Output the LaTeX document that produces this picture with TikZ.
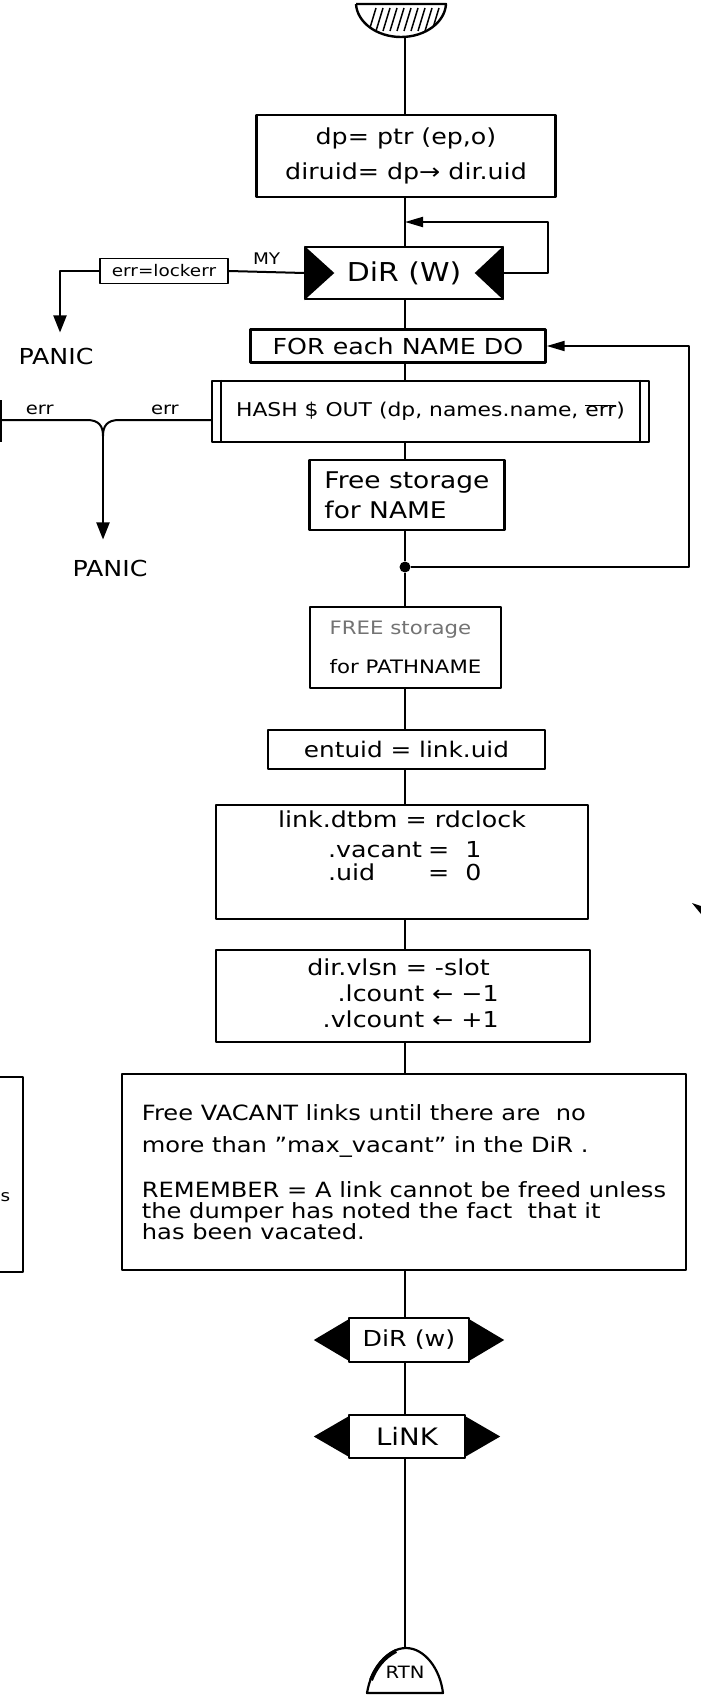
\documentclass[tikz,border=0pt]{standalone}
\usepackage{fontspec}
\setmainfont{DejaVu Sans}[FakeStretch=1.15]
\usetikzlibrary{arrows.meta,calc}
\newcommand\hsz[2]{\fontsize{#1}{#2}\selectfont}

\begin{document}
\begin{tikzpicture}[x=1pt,y=-1pt,line join=round,
  box/.style={draw,line width=2.4pt,inner sep=0pt},
  txt/.style={inner sep=0pt},
  flow/.style={line width=2pt},
  arr/.style={flow,-{Triangle[length=17pt,width=13pt]}},
  larr/.style={flow,-{Triangle[length=18pt,width=10pt]}},
]
\useasboundingbox (0,0) rectangle (701,1705);

% main vertical axis
\coordinate (ax) at (405,0);

% ---------- entry terminal (hatched half disc) ----------
\node[txt,minimum width=88pt,minimum height=33pt] (start) at (401,20.5) {};
\begin{scope}
  \clip (357,4) .. controls (357,22.2) and (376.7,37) .. (401,37)
        .. controls (425.3,37) and (445,22.2) .. (445,4) -- cycle;
  \foreach \i in {0,...,9}
    \draw[line width=1.5pt] ({369+7*\i},31) -- ({376+7*\i},8);
\end{scope}
\draw[line width=2.4pt] (356,4) -- (446,4)
  .. controls (445,22.2) and (425.3,37) .. (401,37)
  .. controls (376.7,37) and (357,22.2) .. (356,4);

% ---------- boxes ----------
\node[box,minimum width=299pt,minimum height=82pt,align=center,font=\hsz{22}{35}]
  (init) at (406,156) {dp= ptr (ep,o)\\diruid= dp→ dir.uid};

\node[box,minimum width=197pt,minimum height=52pt,font=\hsz{26}{30}]
  (dir1) at (404,273) {DiR (W)};
\fill (dir1.north west) -- ($(dir1.west)+(30,0)$) -- (dir1.south west) -- cycle;
\fill (dir1.north east) -- ($(dir1.east)+(-29,0)$) -- (dir1.south east) -- cycle;

\node[box,line width=1.8pt,minimum width=128pt,minimum height=25pt,font=\hsz{16}{18}]
  (errlk) at (164,271) {err=lockerr};
\node[txt,font=\hsz{22}{24}] (panic1) at (56,356) {PANIC};

\node[box,minimum width=295pt,minimum height=33pt,font=\hsz{22}{24}]
  (foreach) at (398,346) {FOR each NAME DO};

\node[box,minimum width=437pt,minimum height=61pt,font=\hsz{19}{22}]
  (hash) at (430.5,411.5) {HASH \$ OUT (dp, names.name, $\overline{\mbox{err}}$)};
\draw[line width=1.8pt] ($(hash.north west)+(10,0)$) -- ($(hash.south west)+(10,0)$);
\draw[line width=1.8pt] ($(hash.north east)+(-10,0)$) -- ($(hash.south east)+(-10,0)$);

\node[txt,font=\hsz{22}{24}] (panic2) at (110,568) {PANIC};

\node[box,minimum width=195pt,minimum height=70pt,align=left,font=\hsz{23}{30}]
  (freen) at (407,495) {Free storage\\for NAME};

\node[circle,fill,inner sep=0pt,minimum size=11pt] (dot) at (405,567) {};

\node[box,minimum width=191pt,minimum height=81pt,align=left,font=\hsz{18.5}{39}]
  (tree) at (405.5,647.5) {{\color{black!55}FREE storage}\\for PATHNAME};

\node[box,minimum width=277pt,minimum height=39pt,font=\hsz{21.5}{24}]
  (ent) at (406.5,749.5) {entuid = link.uid};

\node[box,minimum width=372pt,minimum height=114pt,font=\hsz{22}{28}]
  (lk) at (402,862) {\begin{tabular}{@{}l@{}}
    link.dtbm = rdclock\\[2pt]
    \hspace*{50pt}\makebox[100pt][l]{.vacant}= \ 1\\[-5pt]
    \hspace*{50pt}\makebox[100pt][l]{.uid}= \ 0\\
    \mbox{}
  \end{tabular}};

\node[box,minimum width=374pt,minimum height=92pt,font=\hsz{22}{26}]
  (vl) at (403,996) {\begin{tabular}{@{}r@{}}
    dir.vlsn = -slot\hspace*{9pt}\\
    .lcount ← −1\\
    .vlcount ← +1
  \end{tabular}};

\node[box,minimum width=564pt,minimum height=196pt,align=left,font=\hsz{21}{21}]
  (big) at (404,1172) {Free VACANT links until there are\ \ no\\[11pt]
    more than "max\_vacant" in the DiR .\\[24pt]
    REMEMBER = A link cannot be freed unless\\
    the dumper has noted the fact\ \ that it\\
    has been vacated.};

\node[box,minimum width=120pt,minimum height=44pt,font=\hsz{22}{24}]
  (dir2) at (409,1340) {DiR (w)};
\fill ($(dir2.north west)+(0,3)$) -- ($(dir2.west)+(-34,0)$) -- ($(dir2.south west)+(0,-3)$) -- cycle;
\fill ($(dir2.north east)+(0,3)$) -- ($(dir2.east)+(34,0)$) -- ($(dir2.south east)+(0,-3)$) -- cycle;

\node[box,minimum width=116pt,minimum height=43pt,font=\hsz{24}{26}]
  (linkn) at (407,1436.5) {LiNK};
\fill ($(linkn.north west)+(0,3)$) -- ($(linkn.west)+(-34,0)$) -- ($(linkn.south west)+(0,-3)$) -- cycle;
\fill ($(linkn.north east)+(0,3)$) -- ($(linkn.east)+(34,0)$) -- ($(linkn.south east)+(0,-3)$) -- cycle;

% ---------- return terminal ----------
\node[txt,minimum width=76pt,minimum height=45pt,font=\hsz{17}{18}]
  (rtn) at (405,1672) {RTN};
\draw[line width=2.2pt] (367,1693) .. controls (371,1668) and (388,1648) .. (406,1648)
  .. controls (424,1648) and (440,1668) .. (443,1693) -- cycle;
\draw[line width=4pt] (371,1680) .. controls (376,1667) and (384,1657) .. (396,1651);

% ---------- main flow ----------
\foreach \a/\b in {start/init,init/dir1,dir1/foreach,foreach/hash,hash/freen,
                   freen/dot,dot/tree,tree/ent,ent/lk,lk/vl,vl/big,
                   big/dir2,dir2/linkn,linkn/rtn}
  \draw[flow] (\a.south -| ax) -- (\b.north -| ax);

% wait loop on the directory lock
\coordinate (dl) at (548,222);
\draw[larr] (dir1.east) -| (dl) -- (dl -| ax);

% lock error exit
\draw[flow] (dir1.west) -- node[txt,above=7pt,font=\hsz{16}{18}] (my) {MY} (errlk.east);
\coordinate (ek) at (60,271);
\draw[arr,shorten >=15pt] (errlk.west) -- (ek) -- (ek |- panic1.north);

% per-name loop back
\coordinate (lp) at (689,346);
\draw[larr] (dot) -- (dot -| lp) -- (lp) -- (foreach.east);

% hash error exits joining
\coordinate (mg) at (103,436);
\coordinate (mr) at (119,420);
\coordinate (ml) at (87,420);
\coordinate (edge) at (-2,420);
\draw[flow] (hash.west |- mr) -- node[txt,above=4pt,font=\hsz{17}{18}] (errr) {err} (mr)
  .. controls (107,420) and (103,426) .. (mg);
\draw[flow] (edge) -- node[txt,above=4pt,pos=0.47,font=\hsz{17}{18}] (errl) {err} (ml)
  .. controls (99,420) and (103,426) .. (mg);
\draw[arr,shorten >=20pt] (mg) -- (mg |- panic2.north);
\draw[flow] (0.5,400) -- (0.5,442);

% box cut at the left border
\draw[line width=2.2pt] (-3,1077) -- (23,1077) -- (23,1272) -- (-3,1272);
\node[txt,anchor=west,font=\hsz{16}{16}] (cut) at (0.5,1197) {s};

% mark at the right border
\fill (692,903) -- (701,906) -- (701,914) -- cycle;
\end{tikzpicture}
\end{document}
